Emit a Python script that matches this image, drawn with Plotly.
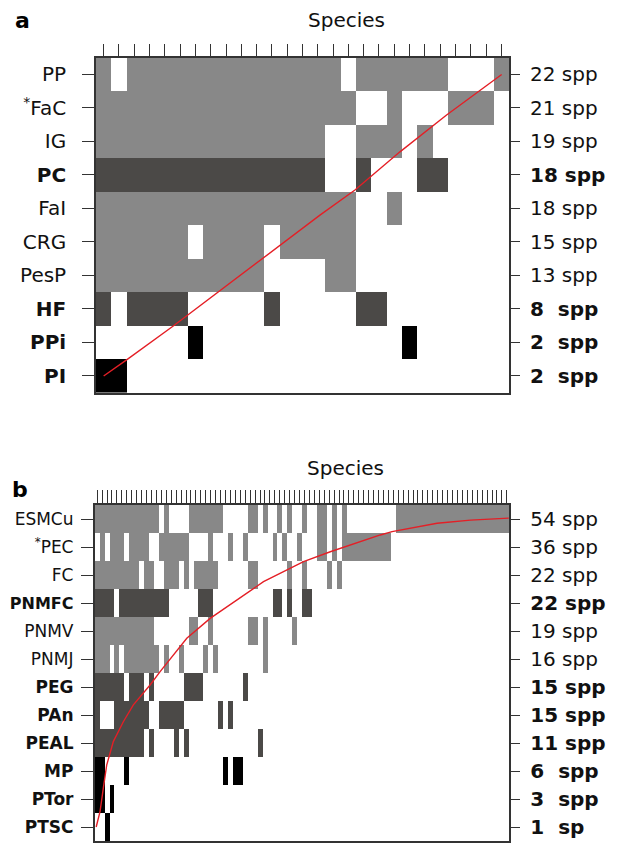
import plotly.graph_objects as go

# ---------------- data: panel a ----------------
rows_a = ["PI", "PPi", "HF", "PesP", "CRG", "FaI", "PC", "IG", "FaC", "PP"]  # bottom -> top
labels_a = ["<b>PI</b>", "<b>PPi</b>", "<b>HF</b>", "PesP", "CRG", "FaI", "<b>PC</b>", "IG",
            "<sup>*</sup>FaC", "PP"]
spp_a = ["<b>2\u00a0\u00a0spp</b>", "<b>2\u00a0\u00a0spp</b>", "<b>8\u00a0\u00a0spp</b>", "13 spp", "15 spp",
         "18 spp", "<b>18 spp</b>", "19 spp", "21 spp", "22 spp"]
kind_a = [3, 3, 2, 1, 1, 1, 2, 1, 1, 1]   # 1 grey, 2 dark, 3 black
n_species_a = 27
presence_a = ["0-1", "6,20", "0,2-5,11,17-18", "0-10,15-16", "0-5,7-10,12-16", "0-16,19",
              "0-14,17,21-22", "0-14,17-19,21", "0-16,19,23-25", "0,2-15,17-22,26"]
curve_a_x = [0, 1.5, 4.55, 7.82, 10.43, 13.49, 14.14, 16.43, 19.37, 22.42, 26.02]
curve_a_y = [0, 0.48, 1.49, 2.62, 3.51, 4.56, 4.8, 5.55, 6.69, 7.79, 9.0]

# ---------------- data: panel b ----------------
rows_b = ["PTSC", "PTor", "MP", "PEAL", "PAn", "PEG", "PNMJ", "PNMV", "PNMFC", "FC", "PEC", "ESMCu"]
labels_b = ["<b>PTSC</b>", "<b>PTor</b>", "<b>MP</b>", "<b>PEAL</b>", "<b>PAn</b>", "<b>PEG</b>",
            "PNMJ", "PNMV", "<span style='font-size:16px'><b>PNMFC</b></span>", "FC",
            "<sup>*</sup>PEC", "ESMCu"]
spp_b = ["<b>1\u00a0\u00a0sp</b>", "<b>3\u00a0\u00a0spp</b>", "<b>6\u00a0\u00a0spp</b>", "<b>11 spp</b>",
         "<b>15 spp</b>", "<b>15 spp</b>", "16 spp", "19 spp", "<b>22 spp</b>", "22 spp", "36 spp", "54 spp"]
kind_b = [3, 3, 3, 2, 2, 2, 1, 1, 2, 1, 1, 1]
n_species_b = 84
presence_b = ["2",
              "0-1,3",
              "0-1,6,26,28-29",
              "0-9,11,16,18,33",
              "0,4-10,13-17,25,27",
              "0-5,7-9,11,18-21,30",
              "0-2,4,6-12,14,17,22,24,34",
              "0-11,19-20,23,31-32,34,40",
              "0-3,5-14,21-23,36-37,39,42-43",
              "0-8,10-11,14-16,18,20-24,31-32,39,42,47,49",
              "1,3-5,7-10,13-18,23,27,30,36,38,41,45-46,48,50-59",
              "0-12,14,19-25,31-32,34,37,39,42,45-46,48,50,61-83"]
curve_b_x = [-0.2, 0.58, 1.24, 1.93, 3.27, 5.30, 7.33, 10.72, 12.75, 15.44, 18.16, 22.89, 28.97,
             33.70, 41.81, 47.23, 57.37, 59.74, 68.87, 75.63, 83.40]
curve_b_y = [0, 0.55, 1.38, 2.21, 3.05, 3.76, 4.36, 5.07, 5.55, 6.14, 6.74, 7.45, 8.17,
             8.76, 9.48, 9.83, 10.43, 10.55, 10.85, 10.96, 11.03]

# ---------------- helpers ----------------
def parse(spec):
    out = set()
    for part in spec.split(","):
        if "-" in part:
            a, b = part.split("-")
            out.update(range(int(a), int(b) + 1))
        else:
            out.add(int(part))
    return out

def matrix(presence, kinds, n):
    z = []
    for spec, k in zip(presence, kinds):
        s = parse(spec)
        z.append([k if c in s else 0 for c in range(n)])
    return z

# the page body has an 8px margin: figure is drawn 8px in from the window corner
OFF = 8
W, H = 617 - OFF, 843 - OFF
FONT = "DejaVu Sans, Liberation Sans, Arial, sans-serif"
AX = "#333333"
GREY, DARK, BLACK = "#888888", "#4b4947", "#000000"
cs = [[0, "#ffffff"], [0.1666, "#ffffff"], [0.1667, GREY], [0.5, GREY], [0.5001, DARK],
      [0.8333, DARK], [0.8334, BLACK], [1, BLACK]]
RED = "#e41f26"
FS = 20

def dx(x0, x1):
    return [(x0 - OFF) / W, (x1 - OFF) / W]

def dy(top, bottom):
    return [1 - (bottom - OFF) / H, 1 - (top - OFF) / H]

def px(x):
    return (x - OFF) / W

def py(y):
    return 1 - (y - OFF) / H

fig = go.Figure()

za = matrix(presence_a, kind_a, n_species_a)
zb = matrix(presence_b, kind_b, n_species_b)

fig.add_trace(go.Heatmap(z=za, x=list(range(n_species_a)), y=list(range(len(rows_a))),
                         colorscale=cs, zmin=0, zmax=3, showscale=False, hoverinfo="skip",
                         xaxis="x", yaxis="y"))
fig.add_trace(go.Scatter(x=curve_a_x, y=curve_a_y, mode="lines", line=dict(color=RED, width=1.4),
                         xaxis="x", yaxis="y", hoverinfo="skip", showlegend=False))
fig.add_trace(go.Scatter(x=[0, 0], y=[0, len(rows_a) - 1], mode="markers", marker=dict(opacity=0),
                         xaxis="x", yaxis="y2", hoverinfo="skip", showlegend=False))

fig.add_trace(go.Heatmap(z=zb, x=list(range(n_species_b)), y=list(range(len(rows_b))),
                         colorscale=cs, zmin=0, zmax=3, showscale=False, hoverinfo="skip",
                         xaxis="x2", yaxis="y3"))
fig.add_trace(go.Scatter(x=curve_b_x, y=curve_b_y, mode="lines", line=dict(color=RED, width=1.4),
                         xaxis="x2", yaxis="y3", hoverinfo="skip", showlegend=False))
fig.add_trace(go.Scatter(x=[0, 0], y=[0, len(rows_b) - 1], mode="markers", marker=dict(opacity=0),
                         xaxis="x2", yaxis="y4", hoverinfo="skip", showlegend=False))

common_x = dict(side="top", ticks="outside", tickwidth=1.3, tickcolor=AX, automargin=False,
                showticklabels=False, showline=True, linecolor=AX, linewidth=1.6, mirror=True,
                showgrid=False, zeroline=False, fixedrange=True)
common_yl = dict(ticks="outside", tickwidth=1.3, tickcolor=AX, showline=True,
                 linecolor=AX, linewidth=1.6, mirror=True, showgrid=False, zeroline=False,
                 tickmode="array", automargin=False)
common_yr = dict(ticks="outside", ticklen=10, tickwidth=1.3, tickcolor=AX, showline=False,
                 showgrid=False, zeroline=False, side="right", automargin=False,
                 tickfont=dict(family=FONT, size=FS, color="#111111"), ticklabelstandoff=6,
                 tickmode="array")

fig.update_layout(
    width=W, height=H, margin=dict(l=0, r=0, t=0, b=0, autoexpand=False),
    paper_bgcolor="white", plot_bgcolor="white", showlegend=False,
    xaxis=dict(domain=dx(96, 509), range=[-0.5, n_species_a - 0.5], anchor="y", ticklen=12,
               tickvals=list(range(n_species_a)), **common_x),
    yaxis=dict(domain=dy(57.7, 392.7), range=[-0.5, len(rows_a) - 0.5], anchor="x",
               tickvals=list(range(len(rows_a))), ticktext=labels_a, ticklen=12,
               tickfont=dict(family=FONT, size=FS, color="#111111"), ticklabelstandoff=12,
               **common_yl),
    yaxis2=dict(overlaying="y", anchor="x", range=[-0.5, len(rows_a) - 0.5],
                tickvals=list(range(len(rows_a))), ticktext=spp_a, **common_yr),
    xaxis2=dict(domain=dx(94.7, 509.3), range=[-0.5, n_species_b - 0.5], anchor="y3", ticklen=13,
                tickvals=list(range(n_species_b)), **common_x),
    yaxis3=dict(domain=dy(505, 841), range=[-0.5, len(rows_b) - 0.5], anchor="x2",
                tickvals=list(range(len(rows_b))), ticktext=labels_b, ticklen=12,
                tickfont=dict(family=FONT, size=17, color="#111111"), ticklabelstandoff=4,
                **common_yl),
    yaxis4=dict(overlaying="y3", anchor="x2", range=[-0.5, len(rows_b) - 0.5],
                tickvals=list(range(len(rows_b))), ticktext=spp_b, **common_yr),
    annotations=[
        dict(text="<b>a</b>", x=px(22), y=py(21), xref="paper", yref="paper", showarrow=False,
             xanchor="center", yanchor="middle", font=dict(family=FONT, size=22, color="#000")),
        dict(text="Species", x=px(346), y=py(20), xref="paper", yref="paper", showarrow=False,
             xanchor="center", yanchor="middle", font=dict(family=FONT, size=FS, color="#111")),
        dict(text="<b>b</b>", x=px(20), y=py(489), xref="paper", yref="paper", showarrow=False,
             xanchor="center", yanchor="middle", font=dict(family=FONT, size=22, color="#000")),
        dict(text="Species", x=px(345), y=py(468), xref="paper", yref="paper", showarrow=False,
             xanchor="center", yanchor="middle", font=dict(family=FONT, size=FS, color="#111")),
    ],
)

fig.write_html("out.html")
